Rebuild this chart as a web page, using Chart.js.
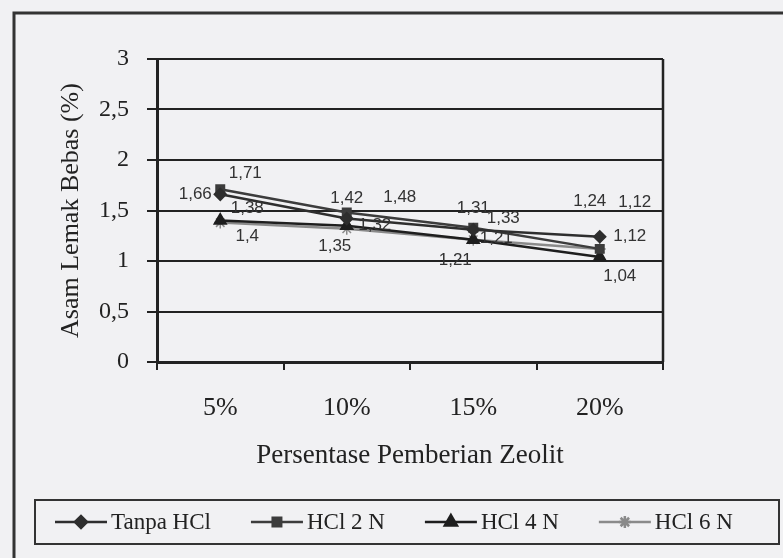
<!DOCTYPE html>
<html>
<head>
<meta charset="utf-8">
<script src="https://cdn.jsdelivr.net/npm/chart.js@4"></script>
<style>
  html, body { margin: 0; background: #f1f1f3; }
</style>
</head>
<body>
<canvas id="zeolit-chart" width="783" height="558"></canvas>
<script>
// data
const kategori = ['5%', '10%', '15%', '20%'];
const seriesNames = ['Tanpa HCl', 'HCl 2 N', 'HCl 4 N', 'HCl 6 N'];
const tanpaHCl = [1.66, 1.42, 1.31, 1.24];
const hcl2N = [1.71, 1.48, 1.33, 1.12];
const hcl4N = [1.4, 1.35, 1.21, 1.04];
const hcl6N = [1.38, 1.32, 1.21, 1.12];
const yTicks = [0, 0.5, 1, 1.5, 2, 2.5, 3];

// where each value label sits relative to its point (px)
const labelOffsets = [
  [[-25, 0], [0, -20], [0, -21], [-10, -35]],
  [[25, -16], [53, -15], [30, -9], [35, -47]],
  [[27, 16], [-12, 21], [-18, 21], [20, 19]],
  [[27, -14], [28, -3], [23, -1], [30, -13]]
];

const koma = v => String(v).replace('.', ',');

const styles = [
  { color: '#2e2e2e', point: 'rectRot', radius: 6 },
  { color: '#3c3c3c', point: 'rect', radius: 6 },
  { color: '#1e1e1e', point: 'triangle', radius: 7 },
  { color: '#8a8a8a', point: 'star', radius: 6 }
];

const allData = [tanpaHCl, hcl2N, hcl4N, hcl6N];

const valueLabels = {
  id: 'valueLabels',
  afterDatasetsDraw(chart) {
    const ctx = chart.ctx;
    ctx.save();
    ctx.font = '17px "Liberation Sans", Arial, sans-serif';
    ctx.fillStyle = '#333';
    ctx.textAlign = 'center';
    ctx.textBaseline = 'middle';
    chart.data.datasets.forEach((ds, i) => {
      chart.getDatasetMeta(i).data.forEach((pt, j) => {
        const off = labelOffsets[i][j];
        ctx.fillText(koma(ds.data[j]), pt.x + off[0], pt.y + off[1]);
      });
    });
    ctx.restore();
  }
};

const frameAndLegend = {
  id: 'frameAndLegend',
  afterDraw(chart) {
    const ctx = chart.ctx;
    const area = chart.chartArea;
    ctx.save();
    // right side of the plot box
    ctx.strokeStyle = '#222';
    ctx.lineWidth = 2.5;
    ctx.beginPath();
    ctx.moveTo(area.right, area.top);
    ctx.lineTo(area.right, area.bottom);
    ctx.stroke();

    // outer frame (left and top edges visible)
    ctx.strokeStyle = '#333';
    ctx.lineWidth = 3;
    ctx.beginPath();
    ctx.moveTo(14, 558);
    ctx.lineTo(14, 13);
    ctx.lineTo(783, 13);
    ctx.stroke();

    // legend box
    ctx.lineWidth = 2;
    ctx.strokeRect(35, 500, 744, 44);

    ctx.font = '23px "Liberation Serif", "Times New Roman", serif';
    ctx.textBaseline = 'middle';
    ctx.textAlign = 'left';
    let x = 55;
    const y = 522;
    chart.data.datasets.forEach((ds, i) => {
      const s = styles[i];
      ctx.strokeStyle = s.color;
      ctx.lineWidth = 2.5;
      ctx.beginPath();
      ctx.moveTo(x, y);
      ctx.lineTo(x + 52, y);
      ctx.stroke();
      ctx.fillStyle = s.color;
      Chart.helpers.drawPoint(ctx, {
        pointStyle: s.point, radius: s.radius, borderWidth: 1.5, rotation: 0
      }, x + 26, y);
      ctx.fillStyle = '#222';
      ctx.fillText(ds.label, x + 56, y + 1);
      x += 56 + ctx.measureText(ds.label).width + 40;
    });
    ctx.restore();
  }
};

new Chart(document.getElementById('zeolit-chart').getContext('2d'), {
  type: 'line',
  data: {
    labels: kategori,
    datasets: allData.map((vals, i) => ({
      label: seriesNames[i],
      data: vals,
      borderColor: styles[i].color,
      backgroundColor: styles[i].color,
      borderWidth: 2.5,
      pointStyle: styles[i].point,
      pointRadius: styles[i].radius,
      pointBorderWidth: 1.5,
      fill: false,
      tension: 0
    }))
  },
  options: {
    responsive: false,
    animation: false,
    layout: { padding: { left: 56, right: 120, top: 59, bottom: 86 } },
    plugins: {
      legend: { display: false },
      tooltip: { enabled: false }
    },
    scales: {
      x: {
        offset: true,
        grid: { offset: true, drawOnChartArea: false, tickLength: 8, color: '#222', lineWidth: 2 },
        border: { color: '#222', width: 3 },
        ticks: {
          color: '#222', padding: 23,
          font: { family: '"Liberation Serif", "Times New Roman", serif', size: 26 }
        },
        title: {
          display: true, text: 'Persentase Pemberian Zeolit', color: '#222', padding: 0,
          font: { family: '"Liberation Serif", "Times New Roman", serif', size: 27 }
        },
        afterFit(scale) { scale.height = 110; }
      },
      y: {
        min: 0,
        max: 3,
        afterBuildTicks(scale) { scale.ticks = yTicks.map(v => ({ value: v })); },
        grid: { color: '#222', lineWidth: 2, tickLength: 10 },
        border: { color: '#222', width: 3 },
        ticks: {
          color: '#222', padding: 18,
          callback: v => koma(v),
          font: { family: '"Liberation Serif", "Times New Roman", serif', size: 24 }
        },
        title: {
          display: true, text: 'Asam Lemak Bebas (%)', color: '#222', padding: 0,
          font: { family: '"Liberation Serif", "Times New Roman", serif', size: 26 }
        },
        afterFit(scale) { scale.width = 101; }
      }
    }
  },
  plugins: [valueLabels, frameAndLegend]
});
</script>
</body>
</html>
